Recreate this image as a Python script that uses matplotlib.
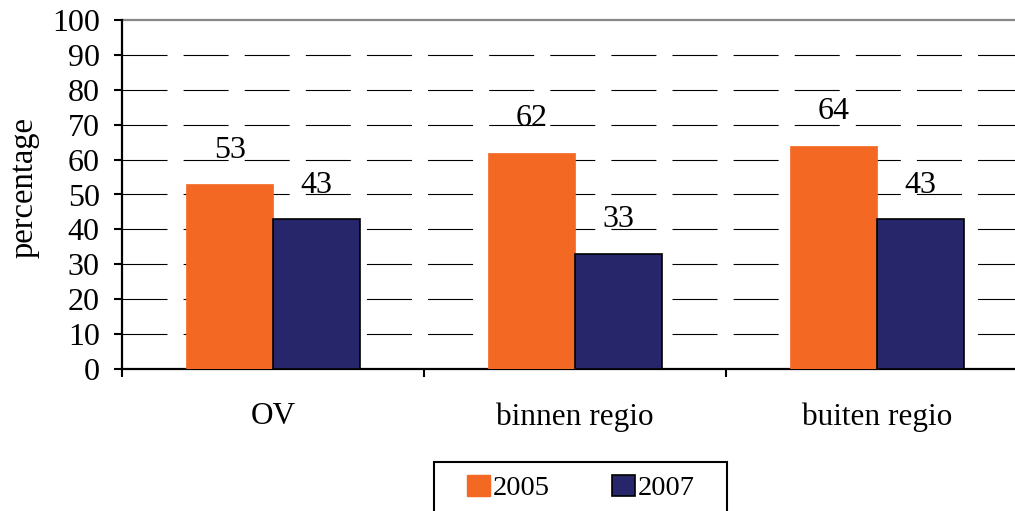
import matplotlib
matplotlib.use("Agg")
import matplotlib.pyplot as plt
from matplotlib.patches import Rectangle
import numpy as np

plt.rcParams['font.family'] = ['Liberation Serif', 'DejaVu Serif']
plt.rcParams['lines.scale_dashes'] = False

categories = ["OV", "binnen regio", "buiten regio"]
series_names = ["2005", "2007"]
values_2005 = [53, 62, 64]
values_2007 = [43, 33, 43]
yticks = list(range(0, 101, 10))

c2005 = '#F36823'
c2007 = '#27266B'

fig = plt.figure(figsize=(10.15, 5.11), dpi=100)
ax = fig.add_axes([122/1015, (511-369)/511, 906/1015, 349/511])

x = np.arange(len(categories))
w = 0.287
ax.bar(x - w/2, values_2005, width=w, color=c2005, edgecolor=c2005, linewidth=0.5, zorder=3)
ax.bar(x + w/2, values_2007, width=w, color=c2007, edgecolor='black', linewidth=1.2, zorder=3)

for xi, v in zip(x - w/2, values_2005):
    ax.text(xi, v + 9.7, str(v), ha='center', va='center', fontsize=23, zorder=4)
for xi, v in zip(x + w/2, values_2007):
    ax.text(xi, v + 9.7, str(v), ha='center', va='center', fontsize=23, zorder=4)

ax.set_xlim(-0.5, 2.5)
ax.set_ylim(0, 100)
ax.set_yticks(yticks)
ax.tick_params(axis='y', labelsize=23, length=6, width=1.5, direction='out', pad=10)
ax.set_xticks(x)
ax.set_xticklabels(categories)
ax.set_xticks(np.arange(-0.5, 3.0, 1.0), minor=True)
ax.tick_params(axis='x', which='major', length=0, labelsize=22.5, pad=24)
ax.tick_params(axis='x', which='minor', length=6, width=1.5, direction='out')

for yv in yticks[1:-1]:
    ax.axhline(yv, color='black', linewidth=0.8, linestyle=(0, (32.4, 11.6)), zorder=1)
ax.axhline(100, color='#888888', linewidth=1.6, zorder=1, clip_on=False)

ax.spines['top'].set_visible(False)
ax.spines['right'].set_visible(False)
ax.spines['left'].set_linewidth(1.6)
ax.spines['bottom'].set_linewidth(1.6)

fig.text(24/1015, 1 - 187/511, 'percentage', rotation=90, ha='center', va='center', fontsize=23.5)

# legend box
rect = Rectangle((434/1015, -0.05), (727-434)/1015, (1 - 462/511) + 0.05,
                 transform=fig.transFigure, fill=False, edgecolor='black', linewidth=1.5)
fig.patches.append(rect)
handles = [Rectangle((0, 0), 1, 1, facecolor=c2005, edgecolor=c2005),
           Rectangle((0, 0), 1, 1, facecolor=c2007, edgecolor='black', linewidth=1.2)]
fig.legend(handles, series_names, loc='center left', bbox_to_anchor=(467/1015, 1 - 488/511),
           ncol=2, frameon=False, fontsize=20.5, handlelength=0.8, handleheight=0.8,
           handletextpad=0.1, columnspacing=2.2, borderpad=0, borderaxespad=0)

fig.savefig('out.png', dpi=100)
